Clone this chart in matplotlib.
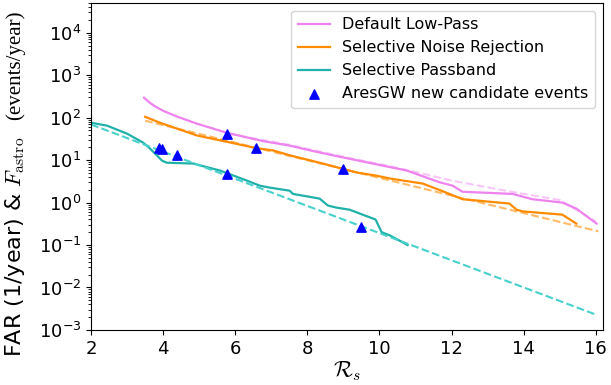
import matplotlib
matplotlib.use("Agg")
import matplotlib.pyplot as plt

plt.rcParams["mathtext.fontset"] = "cm"

# Default Low-Pass
lp_x = [3.47, 3.6, 3.75, 4.0, 4.4, 4.94, 5.77, 6.77, 7.51, 8.07, 8.70, 9.81,
        10.75, 11.67, 12.03, 12.3, 13.69, 14.24, 15.07, 15.46, 16.02]
lp_y = [295, 235, 190, 145, 105, 72, 44, 28, 22, 17, 13, 8.3,
        5.7, 3.0, 2.5, 1.8, 1.6, 1.2, 1.0, 0.72, 0.32]
lp_fit_x = [5.8, 7.5, 9.0, 10.5, 12.0, 13.1, 14.0, 15.0, 16.0]
lp_fit_y = [42, 23, 12, 6.6, 3.3, 2.2, 1.6, 1.15, 0.36]

# Selective Noise Rejection
snr_x = [3.5, 3.91, 4.94, 5.77, 6.6, 7.04, 7.51, 8.43, 9.37, 9.92, 10.28,
         11.2, 11.72, 12.3, 13.6, 13.8, 13.97, 15.07, 15.46]
snr_y = [105, 76, 38, 27, 19, 17, 13, 8.3, 5.1, 4.3, 3.7,
         2.8, 1.9, 1.2, 0.95, 0.68, 0.62, 0.52, 0.32]
snr_fit_x = [3.5, 16.07]
snr_fit_y = [85, 0.21]

# Selective Passband
sp_x = [2.0, 2.44, 3.0, 3.44, 3.63, 3.97, 4.10, 4.83, 5.57, 6.32, 6.68,
        6.96, 7.51, 7.60, 8.34, 8.57, 8.81, 9.17, 9.53, 9.89, 10.06,
        10.28, 10.78]
sp_y = [76, 65, 42, 26, 19, 9.7, 8.7, 8.3, 5.7, 3.3, 2.5,
        2.25, 1.9, 1.6, 1.24, 0.85, 0.76, 0.68, 0.52, 0.40, 0.20,
        0.17, 0.10]
sp_fit_x = [2.0, 16.0]
sp_fit_y = [69, 0.0023]

# AresGW new candidate events
ev_x = [3.88, 3.97, 4.38, 5.77, 5.77, 6.57, 8.98, 9.48]
ev_y = [19.6, 18.7, 13.5, 42, 4.8, 19.7, 6.3, 0.27]

fig, ax = plt.subplots(figsize=(6.11, 3.85), dpi=100)
fig.subplots_adjust(left=0.149, right=0.987, bottom=0.143, top=0.992)

ax.plot(lp_x, lp_y, color="violet", lw=1.6, label="Default Low-Pass")
ax.plot(snr_x, snr_y, color="darkorange", lw=1.6, label="Selective Noise Rejection")
ax.plot(sp_x, sp_y, color="lightseagreen", lw=1.6, label="Selective Passband")
ax.plot(lp_fit_x, lp_fit_y, color="violet", ls="--", lw=1.5, alpha=0.45)
ax.plot(snr_fit_x, snr_fit_y, color="darkorange", ls="--", lw=1.5, alpha=0.6)
ax.plot(sp_fit_x, sp_fit_y, color="mediumturquoise", ls="--", lw=1.5)
ax.scatter(ev_x, ev_y, marker="^", color="blue", s=45, zorder=5,
           label="AresGW new candidate events")

ax.set_yscale("log")
ax.set_xlim(2, 16.2)
ax.set_ylim(1e-3, 5e4)
ax.set_xticks([2, 4, 6, 8, 10, 12, 14, 16])
ax.tick_params(labelsize=13)
ax.set_xlabel(r"$\mathcal{R}_s$", fontsize=16, labelpad=1)

# y label in two pieces: the unit part is serif
fig.text(0.025, 0.073, r"FAR (1/year) & $F_{\rm astro}$", rotation=90,
         fontsize=16, ha="center", va="bottom")
fig.text(0.025, 1 - 120 / 385, "(events/year)", rotation=90,
         fontsize=15, family="Liberation Serif", ha="center", va="bottom")

ax.legend(loc="upper right", fontsize=11.5)

fig.savefig("out.png", dpi=100)
